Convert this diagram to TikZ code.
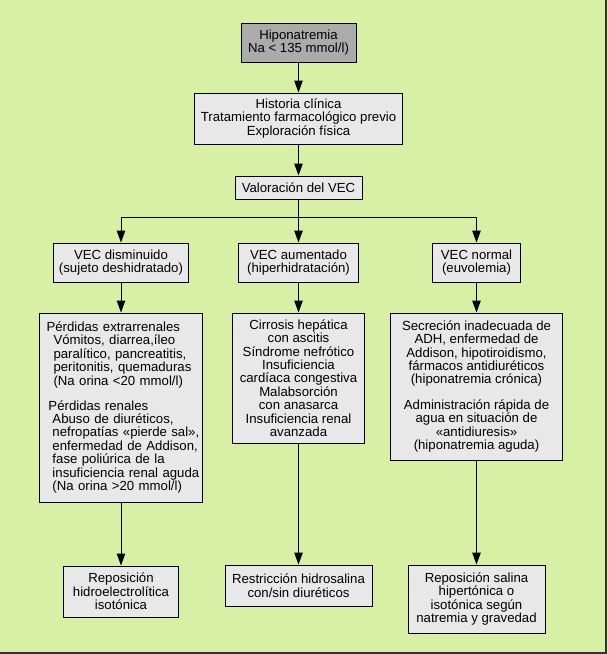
\documentclass[tikz,border=0pt]{standalone}
\usepackage{fontspec}
\setmainfont{Liberation Sans}
\usetikzlibrary{arrows.meta}
\definecolor{bggreen}{HTML}{D7F0A6}
\definecolor{boxgray}{HTML}{E8E8E8}
\definecolor{topgray}{HTML}{ABABAB}
\begin{document}
\begin{tikzpicture}[x=1pt,y=-1pt,
  every node/.style={font=\fontsize{13.2}{13.4}\selectfont},
  box/.style={draw=black, line width=1pt, fill=boxgray, align=center, inner sep=0pt},
  arr/.style={draw=black, line width=1pt, -{Triangle[length=12pt,width=8.5pt]}},
  ln/.style={draw=black, line width=1pt}]
\fill[bggreen] (0,0) rectangle (608,654);
\useasboundingbox (0,0) rectangle (608,654);
\draw[line width=2pt, black!80] (605.5,0) -- (605.5,652.5) -- (0,652.5);

\node[box, fill=topgray, minimum width=115pt, minimum height=39pt] (hipo) at (298.5,42.5)
  {Hiponatremia\\Na < 135 mmol/l)};
\node[box, minimum width=208pt, minimum height=51pt] (hist) at (298.5,118.5)
  {Historia clínica\\Tratamiento farmacológico previo\\Exploración física};
\node[box, minimum width=127pt, minimum height=23pt] (val) at (298.5,187.5)
  {Valoración del VEC};

\node[box, minimum width=135pt, minimum height=39pt] (dis) at (121,262.5)
  {VEC disminuido\\(sujeto deshidratado)};
\node[box, minimum width=120pt, minimum height=39pt] (aum) at (298.5,262.5)
  {VEC aumentado\\(hiperhidratación)};
\node[box, minimum width=88pt, minimum height=39pt] (nor) at (476.5,262.5)
  {VEC normal\\(euvolemia)};

\node[box, align=left, text width=163pt, minimum height=189pt] (left) at (121,407.5)
  {\hspace*{7pt}Pérdidas extrarrenales\\
   \hspace*{14pt}Vómitos, diarrea,íleo\\
   \hspace*{14pt}paralítico, pancreatitis,\\
   \hspace*{14pt}peritonitis, quemaduras\\
   \hspace*{14pt}(Na orina <20 mmol/l)\\[11.5pt]
   \hspace*{9pt}Pérdidas renales\\
   \hspace*{13pt}Abuso de diuréticos,\\
   \hspace*{13pt}nefropatías «pierde sal»,\\
   \hspace*{13pt}enfermedad de Addison,\\
   \hspace*{13pt}fase poliúrica de la\\
   \hspace*{13pt}insuficiencia renal aguda\\
   \hspace*{13pt}(Na orina >20 mmol/l)};
\node[box, minimum width=132pt, minimum height=130pt] (mid) at (298.5,378)
  {Cirrosis hepática\\con ascitis\\Síndrome nefrótico\\Insuficiencia\\cardíaca congestiva\\Malabsorción\\con anasarca\\Insuficiencia renal\\avanzada};
\node[box, minimum width=172pt, minimum height=147pt] (right) at (476.5,386.5)
  {Secreción inadecuada de\\ADH, enfermedad de\\Addison, hipotiroidismo,\\fármacos antidiuréticos\\(hiponatremia crónica)\\[12.3pt]Administración rápida de\\agua en situación de\\«antidiuresis»\\(hiponatremia aguda)};

\node[box, minimum width=115pt, minimum height=51pt] (tl) at (121,591.5)
  {Reposición\\hidroelectrolítica\\isotónica};
\node[box, minimum width=147pt, minimum height=41pt] (tm) at (298.5,585.5)
  {Restricción hidrosalina\\con/sin diuréticos};
\node[box, minimum width=137pt, minimum height=68pt] (tr) at (476.5,599)
  {Reposición salina\\hipertónica o\\isotónica según\\natremia y gravedad};

\draw[arr] (hipo.south) -- (hipo.south |- hist.north);
\draw[arr] (hist.south) -- (hist.south |- val.north);
\draw[arr] (val.south) -- (val.south |- aum.north);
\coordinate (jn) at (298.5,217);
\draw[ln] (dis.north |- jn) -- (nor.north |- jn);
\draw[arr] (dis.north |- jn) -- (dis.north);
\draw[arr] (nor.north |- jn) -- (nor.north);

\draw[arr] (dis.south) -- (dis.south |- left.north);
\draw[arr] (aum.south) -- (aum.south |- mid.north);
\draw[arr] (nor.south) -- (nor.south |- right.north);

\draw[arr] (left.south) -- (left.south |- tl.north);
\draw[arr] (mid.south) -- (mid.south |- tm.north);
\draw[arr] (right.south) -- (right.south |- tr.north);
\end{tikzpicture}
\end{document}
